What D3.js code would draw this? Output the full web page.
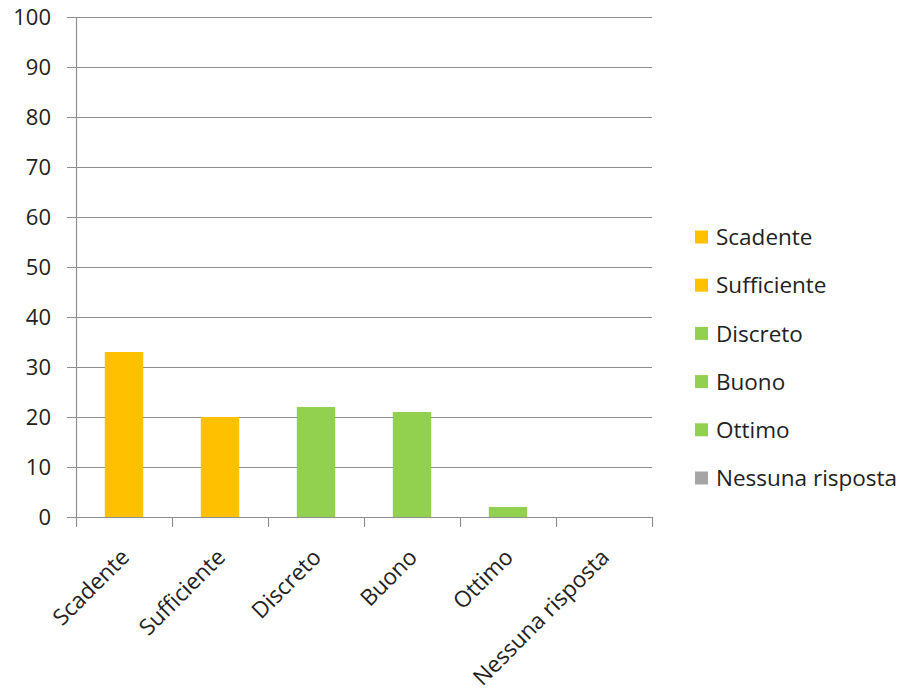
<!DOCTYPE html>
<html><head><meta charset="utf-8">
<script src="https://cdn.jsdelivr.net/npm/d3@7"></script>
<style>body{margin:0;background:#fff}svg{display:block}text{font-family:"Open Sans",sans-serif;fill:#222}</style>
</head><body>
<svg id="c" width="901" height="693"></svg>
<script>
const categories = ["Scadente","Sufficiente","Discreto","Buono","Ottimo","Nessuna risposta"];
const values = [33, 20, 22, 21, 2, 0];
const colors = ["#FFC000","#FFC000","#92D050","#92D050","#92D050","#A5A5A5"];
const yTicks = [0,10,20,30,40,50,60,70,80,90,100];

const svg = d3.select("#c");
const L = 76, R = 652, T = 17, B = 517;
const x = d3.scaleBand().domain(categories).range([L, R]).paddingInner(0).paddingOuter(0);
const y = d3.scaleLinear().domain([0, 100]).range([B, T]);
const grid = "#8f8f8f";

// gridlines
svg.append("g").selectAll("line").data(yTicks).join("line")
  .attr("x1", L - 9).attr("x2", R).attr("y1", d => y(d)+0.5).attr("y2", d => y(d)+0.5)
  .attr("stroke", grid).attr("stroke-width", 1.2);

// y labels
svg.append("g").selectAll("text").data(yTicks).join("text")
  .attr("x", 51).attr("y", d => y(d)).attr("dy", "0.36em")
  .attr("text-anchor", "end").attr("font-size", 22).text(d => d);

// bars
const bw = x.bandwidth() * 0.4;
svg.append("g").selectAll("rect").data(values).join("rect")
  .attr("x", (d,i) => x(categories[i]) + x.bandwidth()/2 - bw/2)
  .attr("width", bw)
  .attr("y", d => y(d)).attr("height", d => B - y(d))
  .attr("fill", (d,i) => colors[i]);

// y axis line
svg.append("line").attr("x1", L+0.5).attr("x2", L+0.5).attr("y1", T).attr("y2", B+10)
  .attr("stroke", grid).attr("stroke-width", 1.2);
// x ticks
const xt = categories.map(c => x(c)).concat([R]);
svg.append("g").selectAll("line").data(xt.slice(1)).join("line")
  .attr("x1", d => d+0.5).attr("x2", d => d+0.5).attr("y1", B).attr("y2", B+10)
  .attr("stroke", grid).attr("stroke-width", 1.2);

// x labels
svg.append("g").selectAll("text").data(categories).join("text")
  .attr("transform", c => `translate(${x(c)+x.bandwidth()/2+1},${B+36}) rotate(-45)`)
  .attr("text-anchor", "end").attr("dy", "0.35em").attr("font-size", 22.5).text(c => c);

// legend
const lg = svg.append("g").selectAll("g").data(categories).join("g")
  .attr("transform", (c,i) => `translate(695,${237 + i*48.2})`);
lg.append("rect").attr("x", 0).attr("y", -6.5).attr("width", 13).attr("height", 13)
  .attr("fill", (c,i) => colors[i]);
lg.append("text").attr("x", 21).attr("dy", "0.36em").attr("font-size", 22.5).text(c => c);
</script>
</body></html>
